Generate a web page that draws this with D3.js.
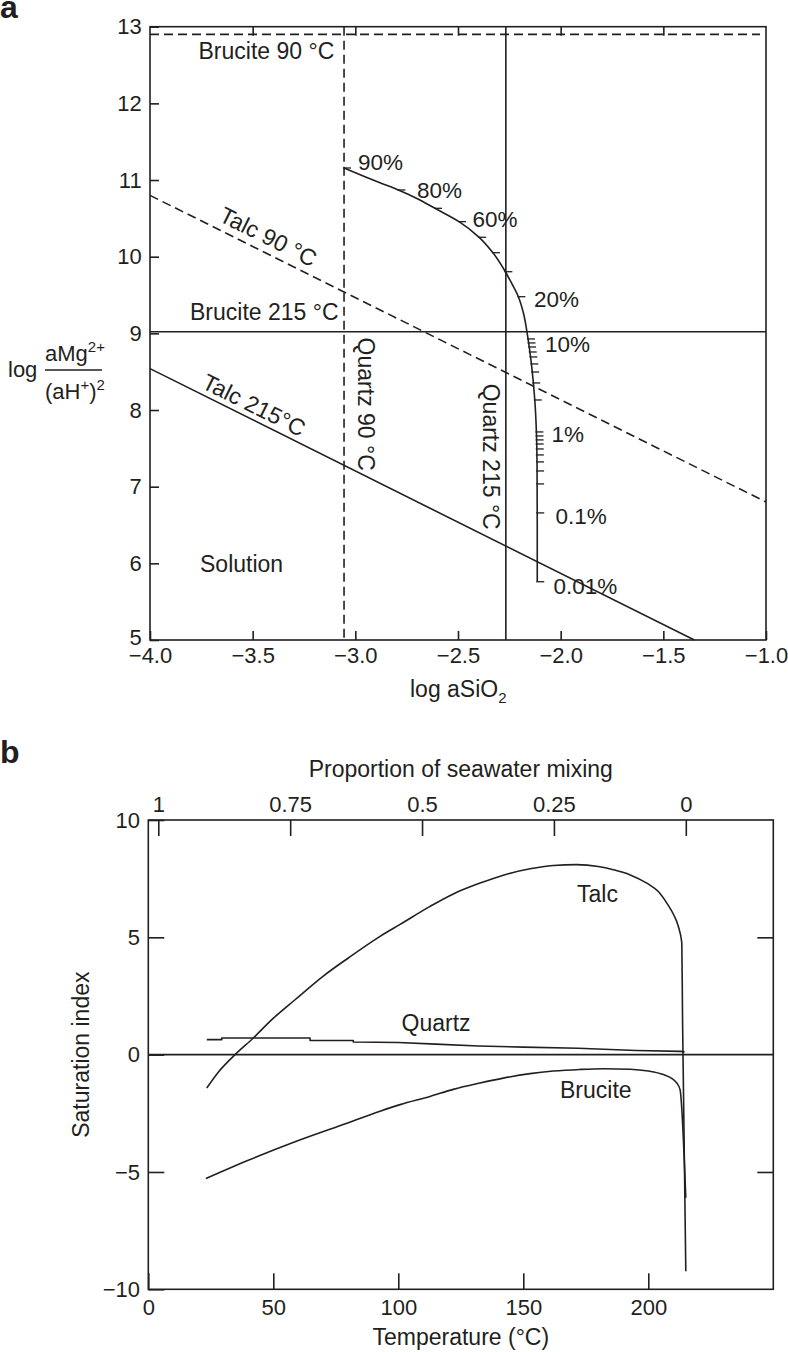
<!DOCTYPE html>
<html>
<head>
<meta charset="utf-8">
<script src="https://cdn.jsdelivr.net/npm/d3@7"></script>
<style>
  html, body { margin: 0; padding: 0; background: #fff; }
  svg text { font-family: "Liberation Sans", Arial, Helvetica, sans-serif; fill: #231f20; }
</style>
</head>
<body>
<svg id="chart" width="788" height="1352"></svg>
<script>
// ---------------- DATA: panel a ----------------
const aXTicks = [-4.0, -3.5, -3.0, -2.5, -2.0, -1.5, -1.0];
const aYTicks = [5, 6, 7, 8, 9, 10, 11, 12, 13];
// Quartz saturation (vertical lines), log aSiO2: 90 °C (dashed), 215 °C (solid)
const quartzLogSiO2 = [-3.055, -2.267];
// Brucite saturation (horizontal lines), log aMg/(aH)^2: 90 °C (dashed), 215 °C (solid)
const bruciteLogMg = [12.9, 9.02];
// Talc saturation lines [x, y] endpoints: 90 °C (dashed), 215 °C (solid)
const talc90 = [[-4.0, 10.8], [-1.0, 6.8]];
const talc215 = [[-4.0, 8.54], [-1.349, 5.0]];
// Mixing curve [log aSiO2, log aMg/(aH)^2]
const mixCurve = [
  [-3.055, 11.157], [-2.95, 11.04], [-2.880, 10.965], [-2.782, 10.861], [-2.70, 10.76],
  [-2.612, 10.631], [-2.495, 10.457], [-2.397, 10.253], [-2.330, 10.052], [-2.272, 9.817],
  [-2.238, 9.65], [-2.206, 9.478], [-2.180, 9.25], [-2.163, 9.0], [-2.141, 8.565],
  [-2.126, 8.131], [-2.118, 7.70], [-2.115, 7.26], [-2.114, 6.5], [-2.114, 5.76]
];
// Percent marks along the mixing curve (log aMg/(aH)^2 value of each mark)
const mixTicksUpper = [11.157, 10.870, 10.631, 10.457, 10.253, 10.052, 9.804, 9.478];
const mixTicksLower = [8.927, 8.875, 8.822, 8.757, 8.692, 8.601, 8.496, 8.353, 8.131,
                       7.714, 7.662, 7.610, 7.557, 7.492, 7.414, 7.323, 7.205, 7.036, 6.658, 5.76];

// ---------------- DATA: panel b ----------------
const bXTicks = [0, 50, 100, 150, 200];
const bYTicks = [-10, -5, 0, 5, 10];
const bTopTicks = [1, 0.75, 0.5, 0.25, 0];
const bTopLabels = ["1", "0.75", "0.5", "0.25", "0"];
// Temperature (°C) of pure seawater (proportion 1) and pure vent fluid (proportion 0)
const mixTempEnds = [4, 215];
// Saturation index curves [T, SI]
const talcSI = [
  [23.4, -1.42], [28, -0.75], [34.7, 0], [42, 0.71], [49.4, 1.49], [58.7, 2.34],
  [70, 3.35], [80, 4.12], [92.7, 5.04], [100.7, 5.55], [112.7, 6.32], [122, 6.85],
  [132.7, 7.31], [142, 7.65], [152.7, 7.92], [162, 8.06], [171.3, 8.10], [180, 8.02],
  [186, 7.88], [193, 7.65], [199.4, 7.31], [204, 6.95], [207.4, 6.46], [210.2, 5.95],
  [212, 5.47], [213.4, 4.76], [213.7, 1.5], [215, -9.23]
];
const quartzSI = [
  [23.4, 0.64], [29.4, 0.64], [29.4, 0.71], [64.7, 0.71], [64.7, 0.60], [82, 0.60],
  [82, 0.54], [100, 0.52], [115, 0.45], [132, 0.37], [150, 0.32], [172, 0.27],
  [195, 0.18], [213, 0.14], [214.5, 0.12]
];
const bruciteSI = [
  [23, -5.28], [40, -4.5], [60, -3.66], [80, -2.9], [92.7, -2.41], [100.7, -2.13],
  [112.7, -1.78], [122, -1.48], [132.7, -1.21], [142, -1.0], [152.7, -0.81], [162, -0.70],
  [172.7, -0.63], [182, -0.60], [192.7, -0.62], [200, -0.70], [206, -0.85], [209.5, -1.02],
  [211.4, -1.21], [212.7, -1.49], [215, -6.1]
];

// ---------------- DRAW ----------------
const svg = d3.select("#chart");
const INK = "#231f20";
const LW = 1.6;
const DASH = "9,5";

// ===== Panel a =====
const xA = d3.scaleLinear().domain([-4, -1]).range([150, 766]);
const yA = d3.scaleLinear().domain([5, 13]).range([640, 26.7]);
const gA = svg.append("g");

function styleAxis(g, fs) {
  g.select(".domain").remove();
  g.selectAll(".tick line").attr("stroke", INK).attr("stroke-width", LW);
  g.selectAll(".tick text").attr("fill", INK).style("font-size", fs + "px")
    .style("font-family", '"Liberation Sans", Arial, Helvetica, sans-serif');
}

const fmtA = d3.format(".1f");
gA.append("g").attr("transform", `translate(0,${yA(5)})`)
  .call(d3.axisBottom(xA).tickValues(aXTicks).tickFormat(d => fmtA(d)).tickSizeInner(-9).tickSizeOuter(0).tickPadding(7.4))
  .call(g => styleAxis(g, 22));
gA.append("g").attr("transform", `translate(0,${yA(13)})`)
  .call(d3.axisTop(xA).tickValues(aXTicks.slice(1, -1)).tickFormat("").tickSizeInner(-9).tickSizeOuter(0))
  .call(g => styleAxis(g, 22));
gA.append("g").attr("transform", `translate(${xA(-4)},0)`)
  .call(d3.axisLeft(yA).tickValues(aYTicks).tickFormat(d3.format("d")).tickSizeInner(-9).tickSizeOuter(0).tickPadding(8.3))
  .call(g => styleAxis(g, 22))
  .call(g => g.selectAll(".tick text").filter(d => d === 5).attr("dy", "0.2em"));

// frame
gA.append("rect").attr("x", xA(-4)).attr("y", yA(13)).attr("width", xA(-1) - xA(-4)).attr("height", yA(5) - yA(13))
  .attr("fill", "none").attr("stroke", INK).attr("stroke-width", LW);

// quartz lines
gA.selectAll("line.qz").data(quartzLogSiO2).join("line").attr("class", "qz")
  .attr("x1", d => xA(d)).attr("x2", d => xA(d)).attr("y1", yA(13)).attr("y2", yA(5))
  .attr("stroke", INK).attr("stroke-width", LW).attr("stroke-dasharray", (d, i) => i === 0 ? DASH : null);
// brucite lines
gA.selectAll("line.br").data(bruciteLogMg).join("line").attr("class", "br")
  .attr("x1", xA(-4)).attr("x2", (d, i) => i === 0 ? xA(-1) - 6 : xA(-1)).attr("y1", d => yA(d)).attr("y2", d => yA(d))
  .attr("stroke", INK).attr("stroke-width", LW).attr("stroke-dasharray", (d, i) => i === 0 ? DASH : null);
// talc lines
const lineA = d3.line().x(d => xA(d[0])).y(d => yA(d[1]));
gA.append("path").attr("d", lineA(talc90)).attr("fill", "none").attr("stroke", INK).attr("stroke-width", LW).attr("stroke-dasharray", DASH);
gA.append("path").attr("d", lineA(talc215)).attr("fill", "none").attr("stroke", INK).attr("stroke-width", LW);

// mixing curve (smooth, monotone in y)
const curveByY = mixCurve.slice().sort((a, b) => a[1] - b[1]);
const lineMix = d3.line().x(d => xA(d[0])).y(d => yA(d[1])).curve(d3.curveMonotoneY);
gA.append("path").attr("d", lineMix(curveByY))
  .attr("fill", "none").attr("stroke", INK).attr("stroke-width", LW);

// percentage marks: x found by interpolating the curve at each y
function xOnCurve(y) {
  for (let i = 0; i < curveByY.length - 1; i++) {
    const a = curveByY[i], b = curveByY[i + 1];
    if (y >= a[1] && y <= b[1]) {
      const t = (y - a[1]) / (b[1] - a[1] || 1);
      return a[0] + t * (b[0] - a[0]);
    }
  }
  return y < curveByY[0][1] ? curveByY[0][0] : curveByY[curveByY.length - 1][0];
}
const allMixTicks = mixTicksUpper.concat(mixTicksLower);
gA.selectAll("line.mt").data(allMixTicks).join("line").attr("class", "mt")
  .attr("x1", d => xA(xOnCurve(d)) - 1).attr("x2", d => xA(xOnCurve(d)) + 7)
  .attr("y1", d => yA(d)).attr("y2", d => yA(d))
  .attr("stroke", INK).attr("stroke-width", 1.3);

// percentage labels
const pctLabels = [
  ["90%", 358, 170], ["80%", 417, 198], ["60%", 472.5, 227], ["20%", 534, 307],
  ["10%", 545, 351.5], ["1%", 551.5, 441.5], ["0.1%", 555.5, 524], ["0.01%", 553.5, 594]
];
gA.selectAll("text.pct").data(pctLabels).join("text").attr("class", "pct")
  .attr("x", d => d[1]).attr("y", d => d[2]).style("font-size", "22.5px").text(d => d[0]);

// line labels
function lbl(g, txt, x, y, size, anchor) {
  return g.append("text").attr("x", x).attr("y", y).style("font-size", size + "px")
    .attr("text-anchor", anchor || "start").text(txt);
}
lbl(gA, "Brucite 90 °C", 198.5, 58.5, 23);
lbl(gA, "Brucite 215 °C", 190, 320, 23);
lbl(gA, "Solution", 200, 571.5, 23);

const angA = Math.atan2(yA(talc90[1][1]) - yA(talc90[0][1]), xA(talc90[1][0]) - xA(talc90[0][0])) * 180 / Math.PI;
gA.append("text").attr("transform", `translate(268.3,236.7) rotate(${angA})`).attr("text-anchor", "middle")
  .attr("dy", "0.35em").style("font-size", "23px").text("Talc 90 °C");
gA.append("text").attr("transform", `translate(254,405) rotate(${angA})`).attr("text-anchor", "middle")
  .attr("dy", "0.35em").style("font-size", "23px").text("Talc 215°C");
gA.append("text").attr("transform", `translate(366,404.2) rotate(90)`).attr("text-anchor", "middle")
  .attr("dy", "0.35em").style("font-size", "23px").text("Quartz 90 °C");
gA.append("text").attr("transform", `translate(491,456.7) rotate(90)`).attr("text-anchor", "middle")
  .attr("dy", "0.35em").style("font-size", "23px").text("Quartz 215 °C");

// axis titles panel a
const xt = gA.append("text").attr("x", 410).attr("y", 697).style("font-size", "23px");
xt.append("tspan").text("log aSiO");
xt.append("tspan").attr("dy", 6).style("font-size", "15px").text("2");

lbl(gA, "log", 8, 377, 22);
const num = gA.append("text").attr("x", 45).attr("y", 361).style("font-size", "22px");
num.append("tspan").text("aMg");
num.append("tspan").attr("dy", -9).style("font-size", "15px").text("2+");
gA.append("line").attr("x1", 45).attr("x2", 102).attr("y1", 370).attr("y2", 370).attr("stroke", INK).attr("stroke-width", 1.4);
const den = gA.append("text").attr("x", 45).attr("y", 399).style("font-size", "22px");
den.append("tspan").text("(aH");
den.append("tspan").attr("dy", -9).style("font-size", "15px").text("+");
den.append("tspan").attr("dy", 9).text(")");
den.append("tspan").attr("dy", -9).style("font-size", "15px").text("2");

svg.append("text").attr("x", 0).attr("y", 18).style("font-size", "32px").style("font-weight", "bold").text("a");
svg.append("text").attr("x", 0).attr("y", 763).style("font-size", "32px").style("font-weight", "bold").text("b");

// ===== Panel b =====
const xB = d3.scaleLinear().domain([0, 250]).range([148.3, 773.3]);
const yB = d3.scaleLinear().domain([-10, 10]).range([1289.3, 820]);
const xTop = d3.scaleLinear().domain([1, 0]).range([xB(mixTempEnds[0]), xB(mixTempEnds[1])]);
const gB = svg.append("g");

gB.append("g").attr("transform", `translate(0,${yB(-10)})`)
  .call(d3.axisBottom(xB).tickValues(bXTicks).tickFormat(d3.format("d")).tickSizeInner(-16).tickSizeOuter(0).tickPadding(10))
  .call(g => styleAxis(g, 22));
gB.append("g").attr("transform", `translate(0,${yB(10)})`)
  .call(d3.axisTop(xTop).tickValues(bTopTicks).tickFormat((d, i) => bTopLabels[i]).tickSizeInner(-16).tickSizeOuter(0).tickPadding(8.3))
  .call(g => styleAxis(g, 22));
gB.append("g").attr("transform", `translate(${xB(0)},0)`)
  .call(d3.axisLeft(yB).tickValues(bYTicks).tickFormat(d3.format("d")).tickSizeInner(-16).tickSizeOuter(0).tickPadding(8.3))
  .call(g => styleAxis(g, 22));
gB.append("g").attr("transform", `translate(${xB(250)},0)`)
  .call(d3.axisRight(yB).tickValues([-5, 5]).tickFormat("").tickSizeInner(-16).tickSizeOuter(0))
  .call(g => styleAxis(g, 22));

gB.append("rect").attr("x", xB(0)).attr("y", yB(10)).attr("width", xB(250) - xB(0)).attr("height", yB(-10) - yB(10))
  .attr("fill", "none").attr("stroke", INK).attr("stroke-width", LW);
gB.append("line").attr("x1", xB(0)).attr("x2", xB(250)).attr("y1", yB(0)).attr("y2", yB(0))
  .attr("stroke", INK).attr("stroke-width", LW);

const lineSmooth = d3.line().x(d => xB(d[0])).y(d => yB(d[1])).curve(d3.curveMonotoneX);
const lineStep = d3.line().x(d => xB(d[0])).y(d => yB(d[1]));
[[talcSI, lineSmooth], [quartzSI, lineStep], [bruciteSI, lineSmooth]].forEach(([s, gen]) => {
  gB.append("path").attr("d", gen(s)).attr("fill", "none").attr("stroke", INK).attr("stroke-width", LW)
    .attr("stroke-linejoin", "round");
});

lbl(gB, "Talc", 577, 901.5, 23);
lbl(gB, "Quartz", 401.5, 1031, 23);
lbl(gB, "Brucite", 560, 1098, 23);
lbl(gB, "Proportion of seawater mixing", (xB(0) + xB(250)) / 2, 776.5, 23, "middle");
lbl(gB, "Temperature (°C)", (xB(0) + xB(250)) / 2, 1345, 23, "middle");
gB.append("text").attr("transform", `translate(89,${(yB(10) + yB(-10)) / 2}) rotate(-90)`)
  .attr("text-anchor", "middle").style("font-size", "23px").text("Saturation index");
</script>
</body>
</html>
